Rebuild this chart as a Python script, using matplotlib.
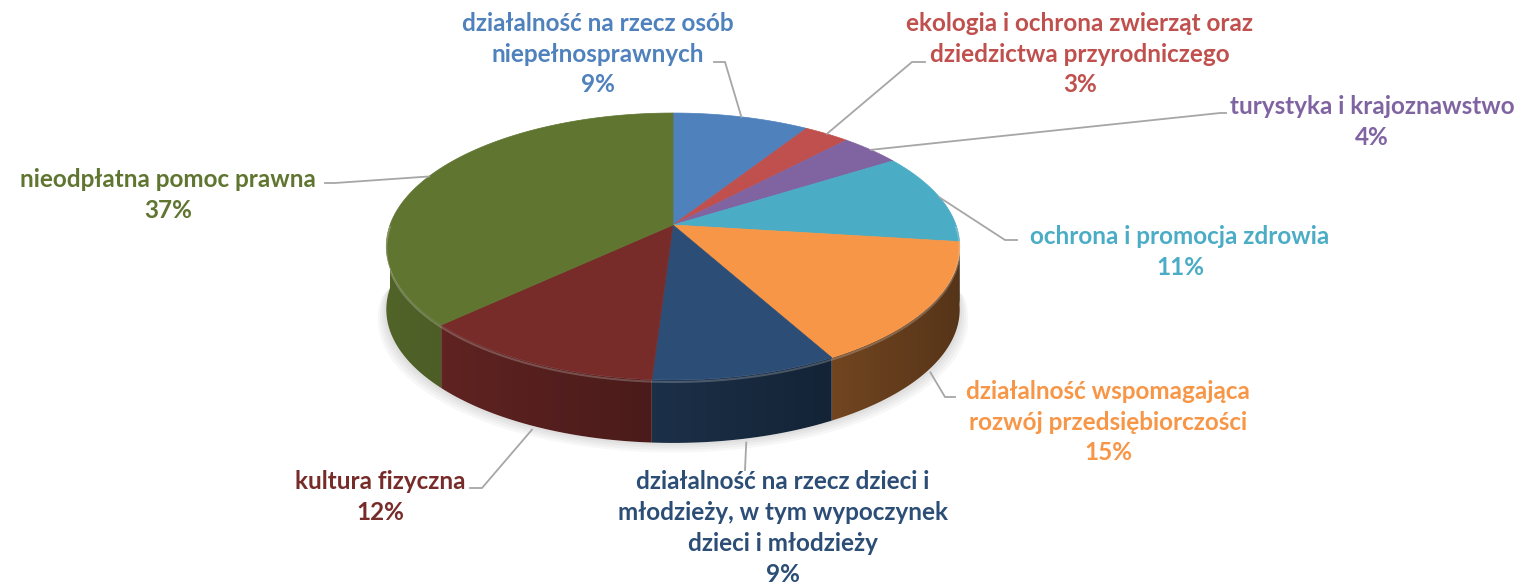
import numpy as np
import matplotlib
matplotlib.use('Agg')
import matplotlib.pyplot as plt
from matplotlib.patches import Polygon
from matplotlib.colors import to_rgb

categories = [
    "działalność na rzecz osób\nniepełnosprawnych",
    "ekologia i ochrona zwierząt oraz\ndziedzictwa przyrodniczego",
    "turystyka i krajoznawstwo",
    "ochrona i promocja zdrowia",
    "działalność wspomagająca\nrozwój przedsiębiorczości",
    "działalność na rzecz dzieci i\nmłodzieży, w tym wypoczynek\ndzieci i młodzieży",
    "kultura fizyczna",
    "nieodpłatna pomoc prawna",
]
shares = [9, 3, 4, 11, 15, 9, 12, 37]
colors = ['#4F81BD', '#C0504D', '#8064A2', '#4BACC6', '#F79646',
          '#2C4D75', '#772C2A', '#5F7530']

# label block centres and leader elbows (pixel layout)
label_pos = [(598, 54), (1080, 54), (1372, 122), (1180, 252),
             (1108, 422), (783, 528), (380, 497), (168, 195)]
leader_ends = [
    [(725, 62), (714, 62)],
    [(912, 62), (925, 62)],
    [(1220, 113), (1226, 113)],
    [(1005, 240), (1017, 240)],
    [(945, 397), (955, 397)],
    [(745, 470)],
    [(482, 488), (470, 488)],
    [(335, 183), (325, 183)],
]

W, H = 1535, 588
fig = plt.figure(figsize=(W / 100, H / 100), dpi=100)
ax = fig.add_axes([0, 0, 1, 1])

CX, CY = 673, 225
RX, B, K, DEPTH = 283, 130, 0.161, 63


def proj(theta_deg, drop=0.0):
    t = np.radians(theta_deg)
    x, z = np.cos(t), np.sin(t)
    d = 1 + K * z
    return CX + RX * x / d, CY - B * z / d + drop


total = float(sum(shares))
bounds = [90.0]
for s in shares:
    bounds.append(bounds[-1] - 360.0 * s / total)

# soft shadow
for grow in [12, 9, 6, 3]:
    th = np.linspace(-180, 0, 200)
    xs, ys = proj(th, DEPTH)
    xs = CX + (xs - CX) * (1 + grow / 400)
    ys = ys + grow * 0.8
    top_x, top_y = proj(th[::-1])
    poly = np.column_stack([np.r_[xs, top_x], np.r_[ys, top_y + DEPTH]])
    ax.add_patch(Polygon(poly, closed=True, facecolor='#000000', alpha=0.03,
                         edgecolor='none', zorder=1))

# sides with horizontal gradient
xl, xr = CX - RX - 5, CX + RX + 5
ncol = 400
tpos = np.linspace(0, 1, ncol)
fac = 0.85 - 0.5 * tpos
for i, c in enumerate(colors):
    a_hi, a_lo = bounds[i], bounds[i + 1]
    lo, hi = max(a_lo, -180.0), min(a_hi, 0.0)
    if hi <= lo:
        continue
    th = np.linspace(hi, lo, 120)
    tx, ty = proj(th)
    poly = np.column_stack([np.r_[tx, tx[::-1]], np.r_[ty, ty[::-1] + DEPTH]])
    patch = Polygon(poly, closed=True, facecolor='none', edgecolor='none', zorder=2)
    ax.add_patch(patch)
    base = np.array(to_rgb(c))
    img = np.clip(fac[None, :, None] * base[None, None, :], 0, 1)
    im = ax.imshow(img, extent=[xl, xr, 470, 100], aspect='auto',
                   interpolation='bilinear', zorder=2)
    im.set_clip_path(patch)

# tops
for i, c in enumerate(colors):
    th = np.linspace(bounds[i], bounds[i + 1], 200)
    xs, ys = proj(th)
    poly = np.column_stack([np.r_[CX, xs], np.r_[CY, ys]])
    ax.add_patch(Polygon(poly, closed=True, facecolor=c, edgecolor=c,
                         linewidth=0.5, zorder=3))

# rim highlight
th = np.linspace(-180, 0, 300)
xs, ys = proj(th)
ax.plot(xs, ys + 2, color='white', alpha=0.22, lw=1.5, zorder=4)

# leaders and labels
for i, c in enumerate(colors):
    mid = (bounds[i] + bounds[i + 1]) / 2
    m = ((mid + 180) % 360) - 180
    drop = DEPTH + 4 if -180 < m < 0 else 0
    sx, sy = proj(mid, drop)
    pts = [(sx, sy)] + leader_ends[i]
    ax.plot([p[0] for p in pts], [p[1] for p in pts], color='#A6A6A6',
            lw=1.3, zorder=5, solid_joinstyle='miter')
    ax.text(label_pos[i][0], label_pos[i][1], f"{categories[i]}\n{shares[i]}%",
            ha='center', va='center', color=c, fontsize=17.5, fontweight='bold',
            family=['Lato', 'DejaVu Sans'], linespacing=1.42, zorder=6)

ax.set_xlim(0, W)
ax.set_ylim(H, 0)
ax.axis('off')
fig.savefig('out.png', dpi=100)
